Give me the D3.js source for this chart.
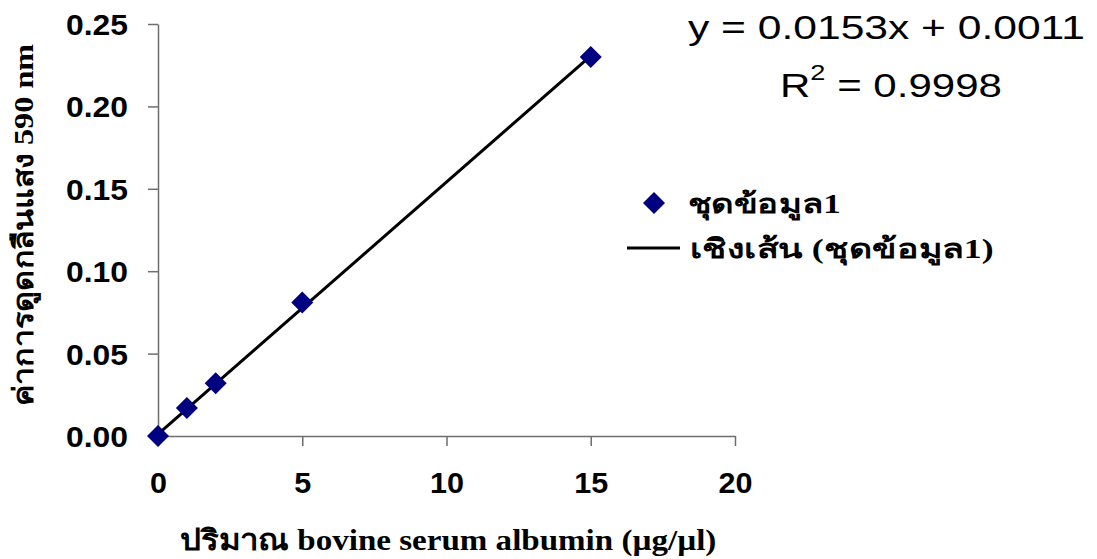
<!DOCTYPE html>
<html>
<head>
<meta charset="utf-8">
<script src="https://cdn.jsdelivr.net/npm/d3@7"></script>
<style>
  html, body { margin: 0; padding: 0; background: #fff; }
  svg { display: block; }
</style>
</head>
<body>
<svg id="chart" width="1097" height="559"></svg>
<script>
// Standard curve: BSA amount vs absorbance at 590 nm
const concentrations = [0, 1, 2, 5, 15];
const absorbances = [0, 0.017, 0.032, 0.081, 0.230];
const xTicks = [0, 5, 10, 15, 20];
const yTicks = [0, 0.05, 0.10, 0.15, 0.20, 0.25];
const fitSlope = 0.0153;
const fitIntercept = 0.0011;
const fitR2 = 0.9998;
const seriesName = "ชุดข้อมูล1";
const trendName = "เชิงเส้น (ชุดข้อมูล1)";
const xTitle = "ปริมาณ bovine serum albumin (µg/µl)";
const yTitle = "ค่าการดูดกลืนแสง 590 nm";

const svg = d3.select("#chart");
const plot = { left: 158, right: 735, top: 24, bottom: 436 };

const x = d3.scaleLinear().domain([0, 20]).range([plot.left, plot.right]);
const y = d3.scaleLinear().domain([0, 0.25]).range([plot.bottom, plot.top]);

const axisColor = "#6e6e6e";
const sansFont = "Liberation Sans, Arial, sans-serif";
const serifFont = "Liberation Serif, Times New Roman, serif";

// Widen a text element horizontally (about its x anchor) so it spans `width` px
function stretch(sel, width) {
  sel.each(function () {
    const node = this;
    const w = node.getBBox().width;
    if (!w) return;
    const sx = width / w;
    const ax = +node.getAttribute("x") || 0;
    node.setAttribute("transform", `translate(${ax},0) scale(${sx},1) translate(${-ax},0)`);
  });
}
function stretchBy(sel, sx) {
  sel.each(function () {
    const ax = +this.getAttribute("x") || 0;
    this.setAttribute("transform", `translate(${ax},0) scale(${sx},1) translate(${-ax},0)`);
  });
}

// Y axis
const yAxis = svg.append("g")
  .attr("transform", `translate(${plot.left},0)`)
  .call(d3.axisLeft(y).tickValues(yTicks).tickFormat(d3.format(".2f")).tickSize(10).tickPadding(20).tickSizeOuter(0));
yAxis.select(".domain").attr("stroke", axisColor).attr("stroke-width", 1.5);
yAxis.selectAll(".tick line").attr("stroke", axisColor).attr("stroke-width", 1.5);
const yLabels = yAxis.selectAll(".tick text")
  .attr("font-family", sansFont).attr("font-weight", "bold").attr("font-size", 30)
  .attr("fill", "#000").attr("dy", "0.35em");
stretchBy(yLabels, 62 / yLabels.nodes()[0].getBBox().width);

// X axis
const xAxis = svg.append("g")
  .attr("transform", `translate(0,${plot.bottom})`)
  .call(d3.axisBottom(x).tickValues(xTicks).tickSize(10).tickPadding(26).tickSizeOuter(0));
xAxis.select(".domain").attr("stroke", axisColor).attr("stroke-width", 1.5);
xAxis.selectAll(".tick line").attr("stroke", axisColor).attr("stroke-width", 1.5);
const xLabels = xAxis.selectAll(".tick text")
  .attr("font-family", sansFont).attr("font-weight", "bold").attr("font-size", 30)
  .attr("fill", "#000");
stretchBy(xLabels, 34 / xLabels.nodes()[2].getBBox().width);

// Linear trendline over the measured range
const xExtent = d3.extent(concentrations);
const fitLine = d3.line().x(d => x(d)).y(d => y(fitSlope * d + fitIntercept));
svg.append("path")
  .datum(xExtent)
  .attr("d", fitLine)
  .attr("fill", "none")
  .attr("stroke", "#000")
  .attr("stroke-width", 3);

// Data markers (diamonds)
const diamond = d3.symbol().type(d3.symbolSquare).size(242);
svg.append("g").selectAll("path")
  .data(concentrations.map((c, i) => [c, absorbances[i]]))
  .join("path")
  .attr("d", diamond)
  .attr("transform", d => `translate(${x(d[0])},${y(d[1])}) rotate(45)`)
  .attr("fill", "#000080");

// Regression equation
const eq = svg.append("text")
  .attr("x", 688).attr("y", 39)
  .attr("font-family", sansFont).attr("font-size", 34)
  .text(`y = ${fitSlope}x + ${fitIntercept.toFixed(4)}`);
stretch(eq, 397);
const r2 = svg.append("text")
  .attr("x", 780).attr("y", 97)
  .attr("font-family", sansFont).attr("font-size", 34);
r2.append("tspan").text("R");
r2.append("tspan").attr("dy", -17).attr("font-size", 22).text("2");
r2.append("tspan").attr("dy", 17).text(` = ${fitR2}`);
stretch(r2, 222);

// Legend
const legend = svg.append("g");
legend.append("path")
  .attr("d", diamond)
  .attr("transform", "translate(654,203) rotate(45)")
  .attr("fill", "#000080");
const leg1 = legend.append("text")
  .attr("x", 688).attr("y", 213)
  .attr("font-family", serifFont).attr("font-weight", "bold").attr("font-size", 27)
  .text(seriesName);
stretch(leg1, 153);
legend.append("line")
  .attr("x1", 627).attr("x2", 680).attr("y1", 248).attr("y2", 248)
  .attr("stroke", "#000").attr("stroke-width", 3);
const leg2 = legend.append("text")
  .attr("x", 690).attr("y", 258)
  .attr("font-family", serifFont).attr("font-weight", "bold").attr("font-size", 27)
  .text(trendName);
stretch(leg2, 300);

// Axis titles
const xt = svg.append("text")
  .attr("x", 448).attr("y", 550)
  .attr("text-anchor", "middle")
  .attr("font-family", serifFont).attr("font-weight", "bold").attr("font-size", 29)
  .text(xTitle);
stretch(xt, 537);
const yt = svg.append("g")
  .attr("transform", "translate(33,225) rotate(-90)")
  .append("text")
  .attr("x", 0).attr("y", 0)
  .attr("text-anchor", "middle")
  .attr("font-family", serifFont).attr("font-weight", "bold").attr("font-size", 28)
  .text(yTitle);
stretch(yt, 364);
</script>
</body>
</html>
